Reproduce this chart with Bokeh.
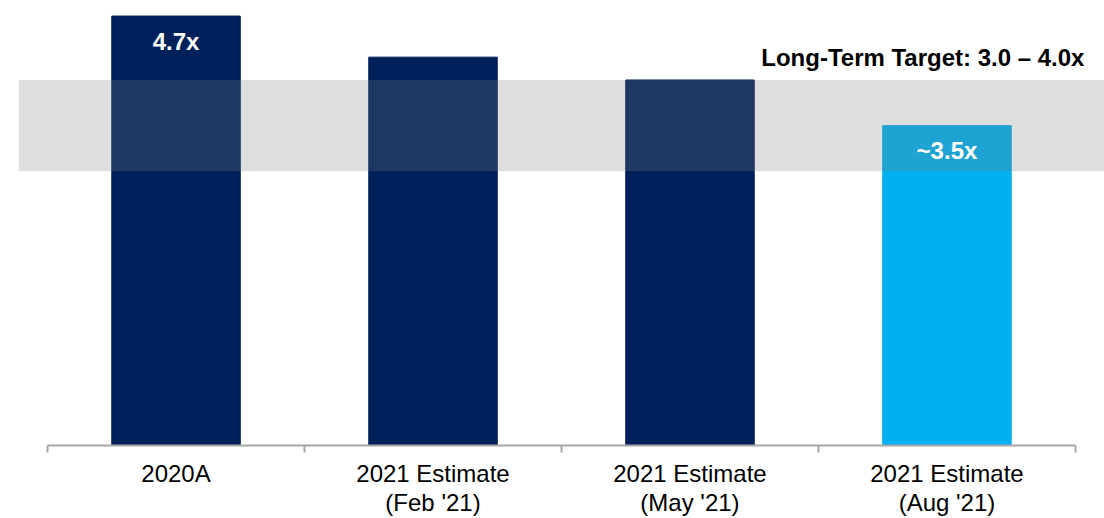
from bokeh.plotting import figure
from bokeh.models import (Range1d, LinearAxis, FixedTicker, BoxAnnotation, ColumnDataSource)
from bokeh.core.properties import value
from bokeh.embed import file_html
from bokeh.resources import INLINE

# Leverage ratio by period
categories = ["2020A", "2021 Estimate\n(Feb '21)", "2021 Estimate\n(May '21)", "2021 Estimate\n(Aug '21)"]
leverage = [4.7, 4.25, 4.0, 3.5]
bar_labels = ["4.7x", "", "", "~3.5x"]
target_low, target_high = 3.0, 4.0
target_text = "Long-Term Target: 3.0 \u2013 4.0x"

NAVY = "#00205b"
SKY = "#00b0f0"
bar_colors = [NAVY, NAVY, NAVY, SKY]
FONT = "Liberation Sans"

n = len(categories)
slots = list(range(1, n + 1))            # one slot per category
edges = [s - 0.5 for s in slots] + [n + 0.5]

PAD = 0.113
p = figure(
    x_range=Range1d(0.5 - PAD, n + 0.5 + PAD),
    y_range=Range1d(0, 4.87),
    width=1104, height=518,
    output_backend="svg", toolbar_location=None,
    x_axis_location=None, y_axis_location=None,
    min_border_left=18, min_border_right=0, min_border_top=0, min_border_bottom=70,
)
p.outline_line_color = None
p.xgrid.visible = False
p.ygrid.visible = False

src = ColumnDataSource(dict(x=slots, val=leverage, color=bar_colors))
p.vbar(x="x", top="val", bottom=0, width=0.5, color="color", source=src)

# Target band drawn over the bars
p.add_layout(BoxAnnotation(bottom=target_low, top=target_high,
                           fill_color=(124, 124, 124), fill_alpha=0.25, line_color=None))

# Value labels only on the bars that carry one
lab = [(s, v, t) for s, v, t in zip(slots, leverage, bar_labels) if t]
lab_src = ColumnDataSource(dict(x=[a[0] for a in lab], val=[a[1] for a in lab],
                                label=[a[2] for a in lab]))
labels = p.text(x="x", y="val", text="label", source=lab_src,
                text_font=value(FONT), text_font_style="bold", text_font_size="24px",
                text_color="white", text_align="center", text_baseline="middle",
                y_offset=25)
labels.level = "overlay"

tgt = p.text(x=[edges[-1]], y=[target_high], text=[target_text],
             text_font=value(FONT), text_font_style="bold", text_font_size="24px",
             text_color="black", text_align="right", text_baseline="alphabetic",
             x_offset=9, y_offset=-22)
tgt.level = "overlay"

# Category axis: names under each slot, short ticks at the slot boundaries
x_axis = LinearAxis(ticker=FixedTicker(ticks=slots, minor_ticks=edges),
                    bounds=(edges[0], edges[-1]),
                    major_label_overrides={s: c for s, c in zip(slots, categories)},
                    axis_line_color="#a6a6a6", axis_line_width=2,
                    major_tick_line_color=None, major_tick_in=0, major_tick_out=0,
                    minor_tick_line_color="#a6a6a6", minor_tick_line_width=2,
                    minor_tick_in=0, minor_tick_out=7,
                    major_label_text_font=FONT, major_label_text_font_size="24px",
                    major_label_text_color="black", major_label_text_line_height=1.085,
                    major_label_standoff=7)
p.add_layout(x_axis, "below")

open("out.html", "w").write(file_html(p, INLINE))
